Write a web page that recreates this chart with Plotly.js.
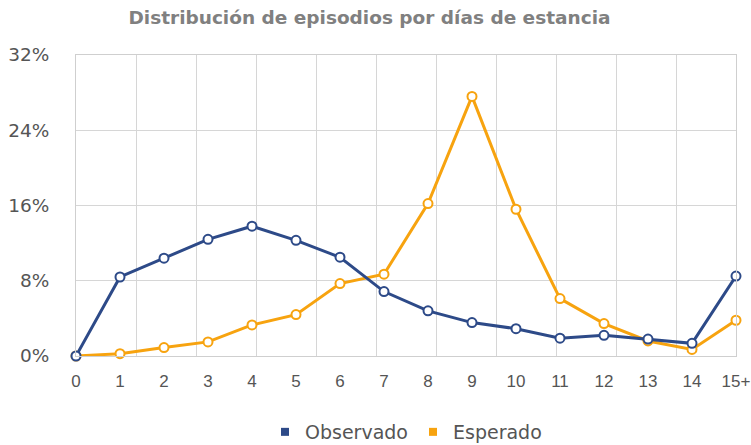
<!DOCTYPE html>
<html>
<head>
<meta charset="utf-8">
<script src="https://cdn.plot.ly/plotly-3.0.1.min.js"></script>
<style>html,body{margin:0;padding:0;background:#fff;}#chart{width:751px;height:445px;}</style>
</head>
<body>
<div id="chart"></div>
<script>
const categories = ["0","1","2","3","4","5","6","7","8","9","10","11","12","13","14","15+"];
const observado = [0, 8.4, 10.4, 12.4, 13.8, 12.3, 10.5, 6.85, 4.8, 3.55, 2.9, 1.9, 2.2, 1.8, 1.35, 8.5];
const esperado = [0, 0.25, 0.9, 1.5, 3.3, 4.4, 7.7, 8.7, 16.2, 27.6, 15.6, 6.1, 3.45, 1.6, 0.7, 3.8];
const yTicks = [0, 8, 16, 24, 32];
const yTickText = ["0%", "8%", "16%", "24%", "32%"];

const blue = "#2d4a88";
const orange = "#f7a30f";
const xIdx = categories.map((c, i) => i);

const traces = [
  {x: xIdx, y: esperado, mode: "lines+markers", name: "Esperado", showlegend: false,
   line: {color: orange, width: 3}, marker: {size: 9, color: "#fff", line: {color: orange, width: 2}},
   cliponaxis: false, hoverinfo: "skip"},
  {x: xIdx, y: observado, mode: "lines+markers", name: "Observado", showlegend: false,
   line: {color: blue, width: 3}, marker: {size: 9, color: "#fff", line: {color: blue, width: 2}},
   cliponaxis: false, hoverinfo: "skip"},
  {x: [null], y: [null], mode: "markers", name: "Observado", marker: {symbol: "square", size: 8, color: blue}},
  {x: [null], y: [null], mode: "markers", name: "Esperado", marker: {symbol: "square", size: 8, color: orange}},
  {x: [0], y: [0], xaxis: "x2", mode: "markers", marker: {opacity: 0}, showlegend: false, hoverinfo: "skip"}
];
const layout = {
  width: 751, height: 445,
  margin: {l: 76, r: 15, t: 55, b: 89, autoexpand: false},
  paper_bgcolor: "#fff", plot_bgcolor: "#fff",
  title: {text: "Distribución de episodios por días de estancia", x: 0.492, xanchor: "center", y: 0.96, yanchor: "middle",
          font: {family: "DejaVu Sans", size: 18.5, color: "#808080", weight: "bold"}},
  font: {family: "DejaVu Sans", color: "#555"},
  xaxis: {range: [0, 15], tickvals: xIdx, ticktext: categories, showgrid: false, zeroline: false,
          showline: true, mirror: true, linecolor: "#cfcfcf", linewidth: 1, automargin: false,
          tickfont: {family: "Liberation Sans", size: 17, color: "#555"}, ticks: "", ticklabelstandoff: 10, fixedrange: true},
  xaxis2: {overlaying: "x", range: [0, 11], dtick: 1, tick0: 0, showgrid: true, gridcolor: "#d6d6d6",
           showticklabels: false, zeroline: false, ticks: "", side: "bottom", fixedrange: true},
  yaxis: {range: [0, 32], tickvals: yTicks, ticktext: yTickText, showgrid: true, gridcolor: "#d6d6d6",
          zeroline: false, showline: true, mirror: true, linecolor: "#cfcfcf", automargin: false,
          tickfont: {size: 18.5, color: "#555"}, ticks: "", ticklabelstandoff: 22, fixedrange: true},
  legend: {orientation: "h", x: 0.5, xanchor: "center", y: -0.2525, yanchor: "middle",
           font: {size: 19, color: "#555"}, itemwidth: 30, traceorder: "normal"},
  showlegend: true
};
Plotly.newPlot("chart", traces, layout, {displayModeBar: false, staticPlot: true});
</script>
</body>
</html>
